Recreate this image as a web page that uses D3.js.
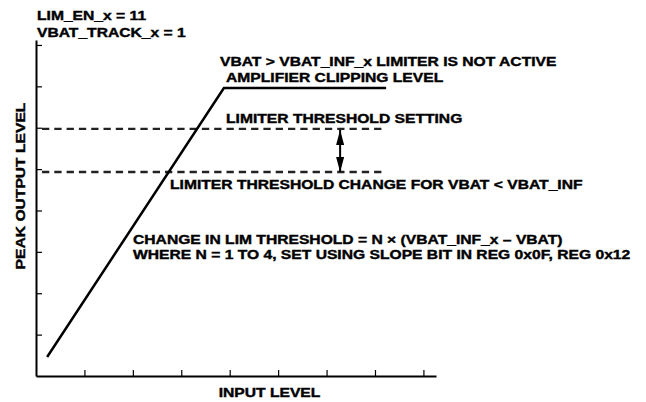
<!DOCTYPE html>
<html>
<head>
<meta charset="utf-8">
<script src="https://cdn.jsdelivr.net/npm/d3@7"></script>
<style>
  html, body { margin: 0; padding: 0; background: #fff; }
  svg { display: block; }
  text { font-family: "Liberation Sans", Arial, sans-serif; font-weight: bold; fill: #000; stroke: #000; stroke-width: 0.4px; }
</style>
</head>
<body>
<svg id="chart" width="646" height="402"></svg>
<script>
// ---- data (in axis units: one unit = one tick interval) ----
const xTicks = [1, 2, 3, 4, 5, 6, 7, 8];
const yTicks = [1, 2, 3, 4, 5, 6, 7, 8];
const responseX = [0.23, 3.88, 7.23];
const responseY = [0.46, 6.96, 6.96];
const thresholdSetting = 5.97;
const thresholdChanged = 4.93;
const thresholdLineEnd = 7.23;
const arrowX = 6.28;
const settingLabels = ["LIM_EN_x = 11", "VBAT_TRACK_x = 1"];
const xTitle = "INPUT LEVEL";
const yTitle = "PEAK OUTPUT LEVEL";
const notes = [
  "VBAT > VBAT_INF_x LIMITER IS NOT ACTIVE",
  "AMPLIFIER CLIPPING LEVEL",
  "LIMITER THRESHOLD SETTING",
  "LIMITER THRESHOLD CHANGE FOR VBAT < VBAT_INF",
  "CHANGE IN LIM THRESHOLD = N \u00D7 (VBAT_INF_x \u2013 VBAT)",
  "WHERE N = 1 TO 4, SET USING SLOPE BIT IN REG 0x0F, REG 0x12"
];

// ---- layout ----
const svg = d3.select("#chart");
const x = d3.scaleLinear().domain([0, 8.26]).range([36, 436]);
const y = d3.scaleLinear().domain([0, 8.12]).range([376, 40]);
const FS = 13.2, SX = 1.185;

svg.append("defs").append("marker")
  .attr("id", "ah").attr("viewBox", "0 0 15 8")
  .attr("refX", 15).attr("refY", 4)
  .attr("markerWidth", 15).attr("markerHeight", 8)
  .attr("markerUnits", "userSpaceOnUse")
  .attr("orient", "auto-start-reverse")
  .append("path").attr("d", "M0,0 L15,4 L0,8 Z")
  .attr("fill", "#000");

// dashed threshold lines
[thresholdSetting, thresholdChanged].forEach(v => {
  svg.append("line")
    .attr("x1", x(0) + 6).attr("x2", x(thresholdLineEnd))
    .attr("y1", y(v)).attr("y2", y(v))
    .attr("stroke", "#222").attr("stroke-width", 2.3)
    .attr("stroke-dasharray", "7.3,5");
});

// axes
const yAxis = d3.axisLeft(y).tickValues(yTicks).tickSizeInner(-6).tickSizeOuter(0).tickFormat("");
const xAxis = d3.axisBottom(x).tickValues(xTicks).tickSizeInner(-6).tickSizeOuter(0).tickFormat("");
const gy = svg.append("g").attr("transform", `translate(${x(0)},0)`).call(yAxis);
const gx = svg.append("g").attr("transform", `translate(0,${y(0)})`).call(xAxis);
[gy, gx].forEach(g => {
  g.select(".domain").attr("stroke", "#000").attr("stroke-width", 2);
  g.selectAll(".tick line").attr("stroke", "#000").attr("stroke-width", 1.2);
});

// response curve
const pts = responseX.map((d, i) => [d, responseY[i]]);
svg.append("path")
  .datum(pts)
  .attr("d", d3.line().x(d => x(d[0])).y(d => y(d[1])))
  .attr("fill", "none").attr("stroke", "#000").attr("stroke-width", 2.5);

// double arrow
svg.append("line")
  .attr("x1", x(arrowX)).attr("x2", x(arrowX))
  .attr("y1", y(thresholdSetting) + 1).attr("y2", y(thresholdChanged))
  .attr("stroke", "#000").attr("stroke-width", 2)
  .attr("marker-start", "url(#ah)").attr("marker-end", "url(#ah)");

// text helper
function label(str, tx, ty, anchor = "start", rot = 0) {
  svg.append("g")
    .attr("transform", `translate(${tx},${ty}) rotate(${rot}) scale(${SX},1)`)
    .append("text").attr("text-anchor", anchor)
    .attr("font-size", FS).text(str);
}

label(settingLabels[0], 37, 20);
label(settingLabels[1], 37, 37);
label(notes[0], 220, 66);
label(notes[1], 226, 82);
label(notes[2], 226, 123);
label(notes[3], 170, 189);
label(notes[4], 133, 244);
label(notes[5], 133, 259);
label(xTitle, 269.5, 397, "middle");
label(yTitle, 25, 186, "middle", -90);
</script>
</body>
</html>
